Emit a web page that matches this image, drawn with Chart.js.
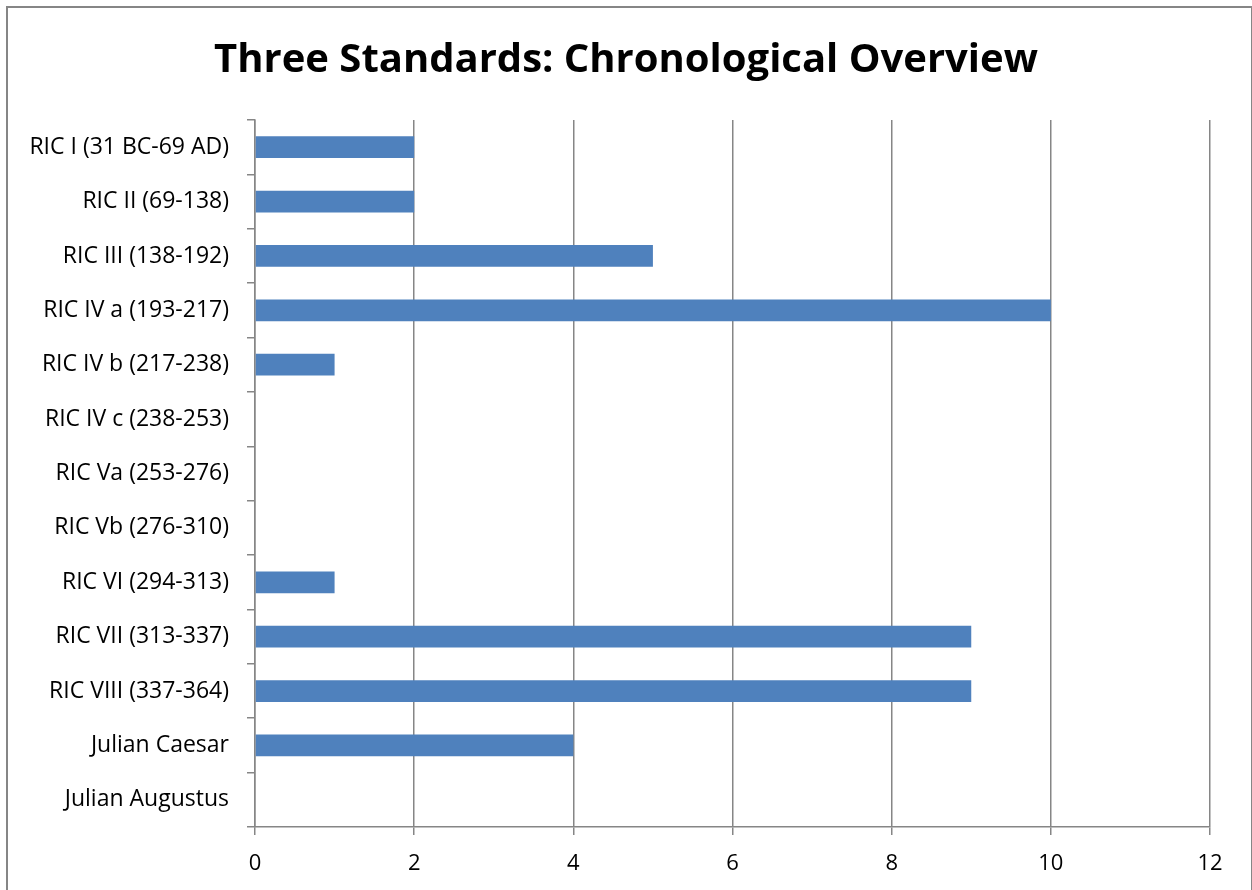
<!DOCTYPE html>
<html>
<head>
<meta charset="utf-8">
<script src="https://cdn.jsdelivr.net/npm/chart.js@4"></script>
<style>
  html, body { margin: 0; padding: 0; background: #fff; overflow: hidden; }
  #wrap { position: relative; width: 1252px; height: 890px; }
  #frame {
    position: absolute; left: 6px; top: 6px; width: 1243px; height: 900px;
    border: 2px solid #868686; pointer-events: none;
  }
</style>
</head>
<body>
<div id="wrap">
  <canvas id="chronoChart" width="1252" height="890"></canvas>
  <div id="frame"></div>
</div>
<script>
  // categories and counts
  const categories = [
    "RIC I (31 BC-69 AD)",
    "RIC II (69-138)",
    "RIC III (138-192)",
    "RIC IV a (193-217)",
    "RIC IV b (217-238)",
    "RIC IV c (238-253)",
    "RIC Va (253-276)",
    "RIC Vb (276-310)",
    "RIC VI (294-313)",
    "RIC VII (313-337)",
    "RIC VIII (337-364)",
    "Julian Caesar",
    "Julian Augustus",
  ];
  const counts = [2, 2, 5, 10, 1, 0, 0, 0, 1, 9, 9, 4, 0];
  const xTicks = [0, 2, 4, 6, 8, 10, 12];

  const FONT = "'Open Sans', sans-serif";
  const GRID = "#868686";

  document.addEventListener("DOMContentLoaded", function () {
    const ctx = document.getElementById("chronoChart");
    new Chart(ctx, {
      type: "bar",
      data: {
        labels: categories,
        datasets: [
          {
            label: "Count",
            data: counts,
            backgroundColor: "#4F81BD",
            borderWidth: 0,
            barPercentage: 0.4,
            categoryPercentage: 1,
          },
        ],
      },
      options: {
        indexAxis: "y",
        responsive: false,
        animation: false,
        layout: { padding: { left: 20, right: 20, top: 0, bottom: 10 } },
        plugins: {
          legend: { display: false },
          tooltip: { enabled: false },
          title: {
            display: true,
            text: "Three Standards: Chronological Overview",
            color: "#000",
            font: { family: FONT, size: 40, weight: "bold", lineHeight: 1.2 },
            padding: { top: 37, bottom: 35 },
          },
        },
        scales: {
          x: {
            min: 0,
            max: 12,
            afterBuildTicks: function (scale) {
              scale.ticks = xTicks.map((v) => ({ value: v }));
            },
            afterFit: function (scale) {
              scale.height = 53;
            },
            grid: {
              color: GRID,
              lineWidth: 1.5,
              tickLength: 8,
            },
            border: { display: true, color: GRID, width: 1.5 },
            ticks: {
              color: "#000",
              padding: 16,
              font: { family: FONT, size: 22 },
            },
          },
          y: {
            afterFit: function (scale) {
              scale.width = 235;
            },
            grid: {
              offset: true,
              drawOnChartArea: false,
              color: GRID,
              lineWidth: 1.5,
              tickLength: 8,
            },
            border: { display: true, color: GRID, width: 1.5 },
            ticks: {
              color: "#000",
              padding: 18,
              autoSkip: false,
              font: { family: FONT, size: 23 },
            },
          },
          // empty spacer on the right so the title stays centred on the page
          yRight: {
            type: "category",
            position: "right",
            afterFit: function (scale) {
              scale.width = 22;
            },
            grid: { display: false },
            border: { display: false },
            ticks: { display: false },
          },
        },
      },
    });
  });
</script>
</body>
</html>
